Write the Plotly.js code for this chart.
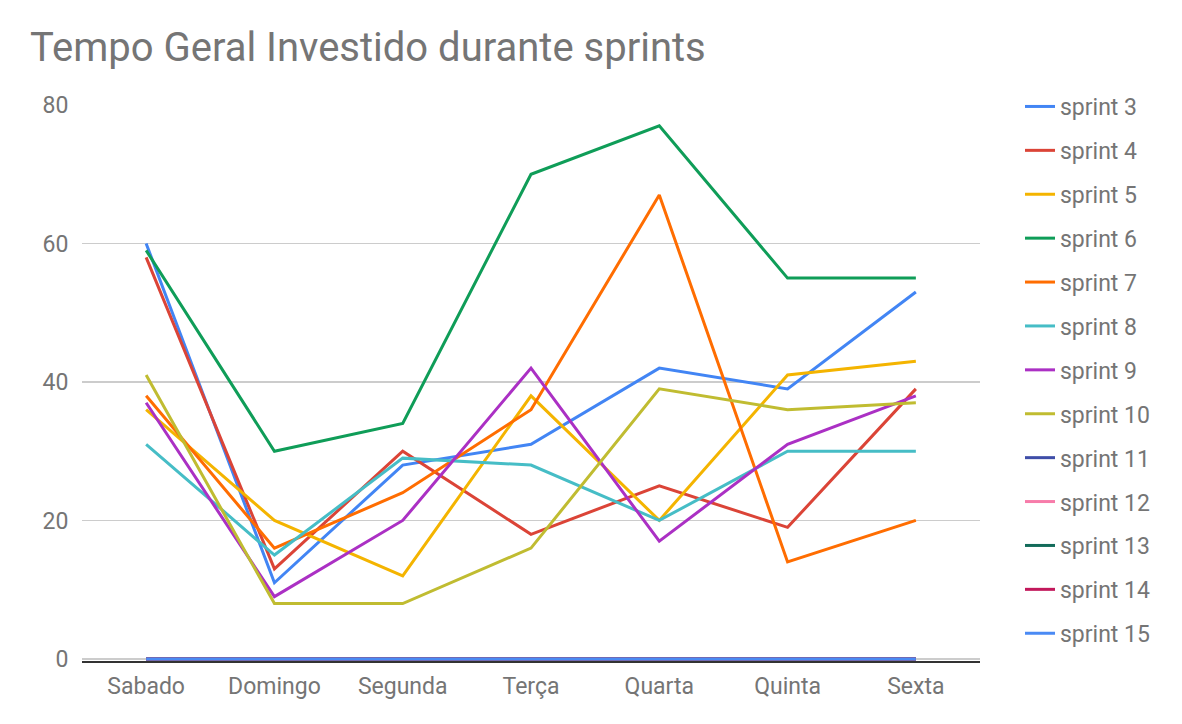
<!DOCTYPE html>
<html>
<head>
<meta charset="utf-8">
<script src="https://cdn.plot.ly/plotly-3.0.1.min.js"></script>
<style>html,body{margin:0;padding:0;background:#fff;}#chart{width:1182px;height:724px;}</style>
</head>
<body>
<div id="chart"></div>
<script>
const days = ["Sabado", "Domingo", "Segunda", "Terça", "Quarta", "Quinta", "Sexta"];
const seriesNames = ["sprint 3", "sprint 4", "sprint 5", "sprint 6", "sprint 7", "sprint 8", "sprint 9", "sprint 10", "sprint 11", "sprint 12", "sprint 13", "sprint 14", "sprint 15"];
const sprint3  = [60, 11, 28, 31, 42, 39, 53];
const sprint4  = [58, 13, 30, 18, 25, 19, 39];
const sprint5  = [36, 20, 12, 38, 20, 41, 43];
const sprint6  = [59, 30, 34, 70, 77, 55, 55];
const sprint7  = [38, 16, 24, 36, 67, 14, 20];
const sprint8  = [31, 15, 29, 28, 20, 30, 30];
const sprint9  = [37, 9, 20, 42, 17, 31, 38];
const sprint10 = [41, 8, 8, 16, 39, 36, 37];
const sprint11 = [0, 0, 0, 0, 0, 0, 0];
const sprint12 = [0, 0, 0, 0, 0, 0, 0];
const sprint13 = [0, 0, 0, 0, 0, 0, 0];
const sprint14 = [0, 0, 0, 0, 0, 0, 0];
const sprint15 = [0, 0, 0, 0, 0, 0, 0];
const yTicks = [0, 20, 40, 60, 80];

const seriesValues = [sprint3, sprint4, sprint5, sprint6, sprint7, sprint8, sprint9, sprint10, sprint11, sprint12, sprint13, sprint14, sprint15];
const colors = ["#4285F4", "#DB4437", "#F4B400", "#0F9D58", "#FF6D01", "#46BDC6", "#AB30C4", "#C0BC31", "#3F4EA8", "#F77CAA", "#136B5A", "#C2185B", "#4A8AF4"];

const traces = seriesNames.map((name, i) => ({
  type: "scatter",
  mode: "lines",
  name: name,
  x: days,
  y: seriesValues[i],
  legendgroup: "g" + i,
  line: {color: colors[i], width: 3}
}));

const font = {family: "Roboto, 'Open Sans', sans-serif", size: 23, color: "#757575"};

const layout = {
  width: 1182,
  height: 724,
  margin: {l: 82, r: 202, t: 105, b: 63},
  paper_bgcolor: "#fff",
  plot_bgcolor: "#fff",
  font: font,
  title: {
    text: "Tempo Geral Investido durante sprints",
    font: {family: font.family, size: 40, color: "#757575"},
    x: 30 / 1182, xref: "container", xanchor: "left",
    y: 1 - 33 / 724, yref: "container", yanchor: "top"
  },
  xaxis: {
    type: "category",
    range: [-0.5, 6.5],
    showgrid: false,
    showline: true,
    linecolor: "#333",
    linewidth: 2,
    ticks: "outside",
    ticklen: 3,
    tickcolor: "rgba(0,0,0,0)",
    tickfont: font,
    zeroline: false
  },
  yaxis: {
    range: [-0.3, 80],
    tickvals: yTicks,
    ticktext: yTicks.map(String),
    gridcolor: "#cccccc",
    gridwidth: 1.5,
    zeroline: false,
    showline: false,
    ticks: "outside",
    ticklen: 8,
    tickcolor: "rgba(0,0,0,0)",
    tickfont: font
  },
  showlegend: true,
  legend: {
    x: 1020 / 1182, xref: "container", xanchor: "left",
    y: 1 - 85 / 724, yref: "container", yanchor: "top",
    font: font,
    tracegroupgap: 11,
    itemwidth: 30,
    maxheight: 690,
    bgcolor: "rgba(0,0,0,0)"
  },
  hovermode: false
};

Plotly.newPlot("chart", traces, layout, {displayModeBar: false, staticPlot: true});
</script>
</body>
</html>
